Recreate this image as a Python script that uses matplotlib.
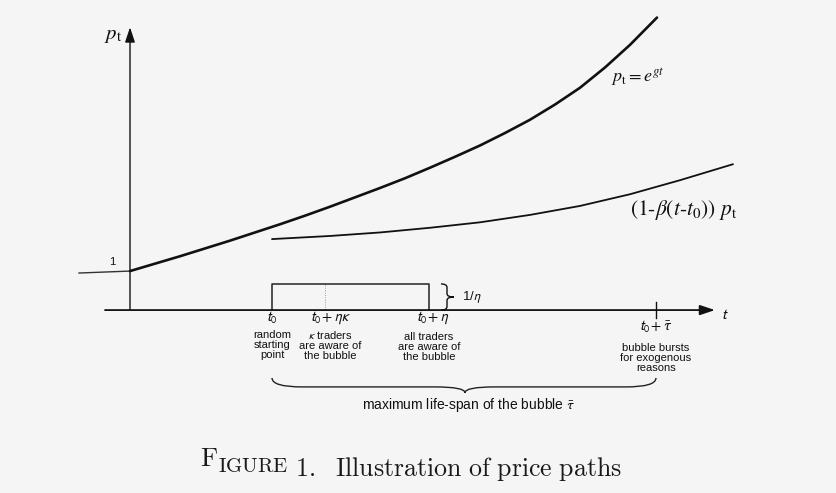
import matplotlib
matplotlib.use('Agg')
import matplotlib.pyplot as plt
from matplotlib.path import Path
from matplotlib.patches import PathPatch

# price path p_t = e^{gt} (t, p units: 1 = level "1")
t_pre = [-0.51, 0.0]
p_pre = [0.95, 1.0]
t_main = [0.0, 0.25, 0.5, 0.75, 1.0, 1.25, 1.5, 1.75, 2.0, 2.25, 2.5, 2.75,
          3.0, 3.25, 3.5, 3.75, 4.0, 4.25, 4.5, 4.75, 5.0, 5.27]
p_main = [1.0, 1.19, 1.38, 1.58, 1.78, 1.99, 2.2, 2.42, 2.65, 2.89, 3.13, 3.38,
          3.65, 3.93, 4.22, 4.54, 4.88, 5.27, 5.7, 6.22, 6.8, 7.5]

# (1-beta(t-t0)) p_t
t_sell = [1.42, 2.0, 2.5, 3.0, 3.5, 4.0, 4.5, 5.0, 5.5, 6.03]
p_sell = [1.82, 1.9, 1.99, 2.11, 2.25, 2.44, 2.67, 2.97, 3.33, 3.74]

# model parameters on the time axis
t0 = 1.42
eta = 1.57
eta_kappa = 0.53
tau_bar = 3.84
box_h = 0.67   # 1/eta

ink = '#111111'


def brace(ax, pts, **kw):
    """ draw a curly brace from a list of (x, y) vertices (quadratic curves) """
    codes = [Path.MOVETO, Path.CURVE3, Path.CURVE3, Path.LINETO, Path.CURVE3,
             Path.CURVE3, Path.CURVE3, Path.CURVE3, Path.LINETO, Path.CURVE3,
             Path.CURVE3]
    ax.add_patch(PathPatch(Path(pts, codes), fill=False, **kw))


fig = plt.figure(figsize=(8.36, 4.93), dpi=100, facecolor='#f5f5f5')
ax = fig.add_axes([0, 0, 1, 1])
ax.set_xlim(-1.30, 7.06)
ax.set_ylim(-4.69, 7.95)
ax.axis('off')

# axes with arrows
ax.annotate('', xy=(0, 7.25), xytext=(0, 0),
            arrowprops=dict(arrowstyle='-|>,head_length=0.9,head_width=0.3',
                            lw=1.0, color=ink, shrinkA=0, shrinkB=0))
ax.annotate('', xy=(5.85, 0), xytext=(-0.25, 0),
            arrowprops=dict(arrowstyle='-|>,head_length=0.9,head_width=0.3',
                            lw=1.3, color=ink, shrinkA=0, shrinkB=0))
ax.plot([t0 + tau_bar] * 2, [-0.2, 0.2], color=ink, lw=1.0)

# price paths
ax.plot(t_pre, p_pre, color='#333333', lw=1.0)
ax.plot(t_main, p_main, color=ink, lw=1.9, solid_capstyle='round', solid_joinstyle='round')
ax.plot(t_sell, p_sell, color=ink, lw=1.3, solid_capstyle='round', solid_joinstyle='round')

# awareness window box
ax.plot([t0, t0, t0 + eta, t0 + eta], [0, box_h, box_h, 0], color='#222222', lw=1.1)
ax.plot([t0 + eta_kappa] * 2, [0, box_h], color='#999999', lw=0.7, ls=(0, (1, 1.5)))

# brace for 1/eta
bx = t0 + eta + 0.12
brace(ax, [(bx, 0.0), (bx + 0.06, 0.0), (bx + 0.06, 0.09), (bx + 0.06, 0.25),
           (bx + 0.06, box_h / 2), (bx + 0.13, box_h / 2), (bx + 0.06, box_h / 2),
           (bx + 0.06, 0.42), (bx + 0.06, 0.58), (bx + 0.06, box_h), (bx, box_h)],
      color=ink, lw=1.0)
ax.text(bx + 0.21, box_h / 2, r'1/$\eta$', fontsize=9.5, family='Liberation Sans',
        math_fontfamily='stixsans', va='center', ha='left', color=ink)

# brace for the maximum life-span
xa, xb, xm = t0, t0 + tau_bar, 3.35
ya, ym, yt = -1.74, -1.97, -2.12
brace(ax, [(xa, ya), (xa, ym), (xa + 0.3, ym), (xm - 0.3, ym), (xm, ym), (xm, yt),
           (xm, ym), (xm + 0.3, ym), (xb - 0.3, ym), (xb, ym), (xb, ya)],
      color='#222222', lw=1.0)

# labels
sans = dict(family='Liberation Sans', math_fontfamily='stixsans', color=ink)
serif = dict(family='Liberation Serif', math_fontfamily='stix', color=ink)

ax.text(-0.17, 7.05, r'$p_{\mathrm{t}}$', fontsize=15, ha='center', va='center', **serif)
ax.text(-0.18, 1.22, '1', fontsize=8, ha='center', va='center', **sans)
ax.text(5.95, -0.12, r'$t$', fontsize=11, ha='center', va='center', **sans)
ax.text(5.08, 5.95, r'$p_{\mathrm{t}} = e^{gt}$', fontsize=13, ha='center', va='center', **serif)
ax.text(5.54, 2.56, r'$(\mathit{1}\text{-}\beta(t\text{-}t_0))\ p_{\mathrm{t}}$', fontsize=15.5,
        ha='center', va='center', **serif)

ax.text(t0, -0.2, r'$t_0$', fontsize=10.5, ha='center', va='center', **sans)
ax.text(t0 + eta_kappa + 0.05, -0.2, r'$t_0 + \eta\kappa$', fontsize=10.5, ha='center', va='center', **sans)
ax.text(t0 + eta + 0.04, -0.2, r'$t_0 + \eta$', fontsize=10.5, ha='center', va='center', **sans)
ax.text(t0 + tau_bar, -0.44, r'$t_0 + \bar{\tau}$', fontsize=10.5, ha='center', va='center', **sans)

blk = dict(fontsize=8, ha='center', va='center', linespacing=1.0, **sans)
ax.text(t0, -0.9, 'random\nstarting\npoint', **blk)
ax.text(t0 + eta_kappa + 0.05, -0.9, '$\\kappa$ traders\nare aware of\nthe bubble', **blk)
ax.text(t0 + eta, -0.95, 'all traders\nare aware of\nthe bubble', **blk)
ax.text(t0 + tau_bar, -1.22, 'bubble bursts\nfor exogenous\nreasons', **blk)
ax.text(3.39, -2.44, r'maximum life-span of the bubble $\bar{\tau}$', fontsize=10,
        ha='center', va='center', **sans)

# caption with small caps, Computer Modern like the paper
cap = dict(color='#1a1a1a', va='baseline', math_fontfamily='cm')
c1 = fig.text(200 / 836, 1 - 466 / 493, r'$\mathrm{F}$', fontsize=19, **cap)
c2 = ax.annotate(r'$\mathrm{IGURE}$', xy=(1, 0), xycoords=c1, fontsize=15, **cap)
ax.annotate(r'$\mathrm{\ 1.\ \ Illustration\ of\ price\ paths}$', xy=(1, 0), xycoords=c2,
            fontsize=18.6, **cap)

fig.savefig('out.png', dpi=100, facecolor=fig.get_facecolor())
